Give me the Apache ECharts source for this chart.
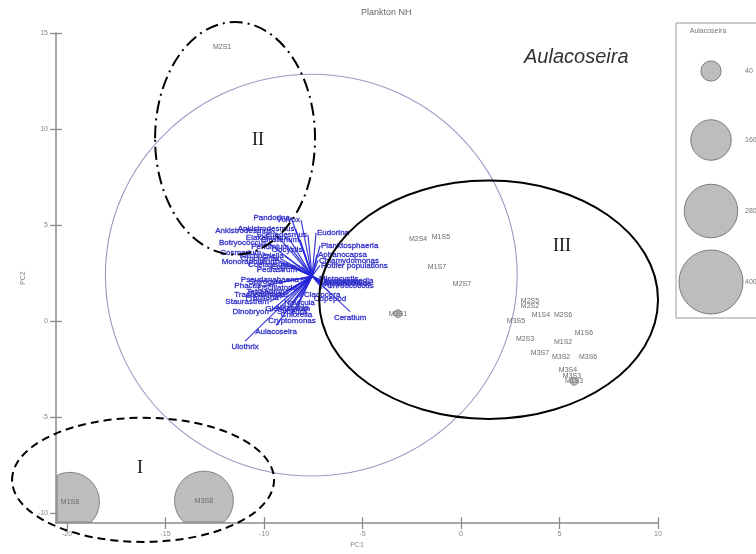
<!DOCTYPE html>
<html><head><meta charset="utf-8">
<script src="https://cdn.jsdelivr.net/npm/echarts@6/dist/echarts.min.js"></script>
<style>html,body{margin:0;padding:0;background:#fff}#c{width:756px;height:554px}</style>
</head><body><div id="c"></div>
<script>
// ---------- data ----------
const siteNames = ['M2S1','M2S4','M1S5','M1S7','M2S7','M3S1','M2S5','M2S2','M1S4','M2S6','M3S5','M1S6','M2S3','M1S2','M3S7','M3S2','M3S6','M3S4','M3S3','M1S3','M1S8','M3S8'];
const siteX = [-12.13,-2.18,-1.02,-1.22,0.05,-3.20,3.50,3.50,4.06,5.18,2.79,6.24,3.25,5.18,4.01,5.08,6.45,5.43,5.63,5.74,-19.85,-13.05];
const siteY = [14.28,4.29,4.39,2.81,1.93,0.40,1.06,0.81,0.30,0.35,-0.01,-0.63,-0.94,-1.09,-1.65,-1.86,-1.86,-2.52,-2.86,-3.12,-9.39,-9.33];
const siteAulacoseira = [0,0,0,0,0,6,0,0,0,0,0,0,0,0,0,0,0,0,0,6,337,337];

const speciesNames = ['Pandorina','Volvox','Ankistrodesmus','Scenedesmus','Closterium','Botryococcus','Peridinium','Cosmarium','Crucigenia','Coelastrum','Pediastrum','Pseudanabaena','Phacus','Oscillatoria','Trachelomonas','Staurastrum','Synedra','Dinobryon','Cryptomonas','Aulacoseira','Ulothrix','Eudorina','Planktosphaeria','Aphanocapsa','Chlamydomonas','Rotifer populations','Microcystis','Anabaena','Chroococcus','Copepod','Ceratium',
  'Ankistrodesmus','Elakatothrix','Oocystis','Kirchneriella','Monoraphidium','Euglena','Spirogyra','Tetraedron','Navicula','Fragilaria','Nitzschia','Chlorella','Merismopedia','Aphanothece','Woronichinia','Cladocera','Glenodinium','Cyclotella'];
const speciesX = [-8.63,-8.12,-9.54,-7.77,-8.17,-9.80,-8.68,-10.10,-9.19,-8.68,-8.27,-8.17,-10.10,-8.27,-8.68,-9.70,-8.58,-9.70,-8.58,-9.39,-10.96,-7.36,-7.16,-7.31,-7.26,-7.16,-7.26,-7.06,-6.85,-6.65,-5.63,
  -8.40,-8.75,-8.00,-8.95,-9.30,-8.10,-9.00,-8.90,-8.20,-9.20,-8.55,-8.35,-7.05,-7.00,-7.15,-7.05,-8.80,-9.05];
const speciesY = [5.41,5.27,4.70,4.50,4.24,4.09,3.88,3.58,3.27,2.96,2.70,2.14,1.83,1.73,1.37,1.02,0.81,0.50,0.35,-0.21,-1.03,4.60,3.93,3.47,3.17,2.91,2.19,2.04,1.83,1.48,0.50,
  4.80,4.35,3.70,3.40,3.10,2.85,2.05,1.55,1.25,1.20,1.00,0.65,2.12,1.95,2.02,1.70,0.95,1.45];
const vectorOrigin = [-7.56, 2.35];
const corrCircle = [-7.6, 2.4, 10.45];   // centre x, centre y, radius

const groupNames = ['I','II','III'];
const groupCX = [-16.14,-11.47,1.40];
const groupCY = [-8.25,9.52,1.12];
const groupRX = [6.65,4.06,8.6];
const groupRY = [3.23,6.05,6.2];
const groupLabelX = [-16.3,-10.3,5.13];
const groupLabelY = [-7.65,9.4,3.88];

const legendValues = [40,160,280,400];
const legendLabels = ['40','160','280','400'];
const xTicks = [-20,-15,-10,-5,0,5,10];
const yTicks = [-10,-5,0,5,10,15];
const xMin = -20.56, xMax = 10, yMin = -10.5, yMax = 15;

// ---------- helpers ----------
function bubbleR(v){ return v > 0 ? 1.6 * Math.sqrt(v) : 0; }
// circle outline clamped to a rectangle (intersection of convex shapes)
function clippedCircle(cx, cy, r, rect){
  const pts = [];
  const N = 160;
  for (let k = 0; k < N; k++){
    const a = 2*Math.PI*k/N;
    let x = cx + r*Math.cos(a), y = cy + r*Math.sin(a);
    x = Math.min(Math.max(x, rect.x), rect.x + rect.width);
    y = Math.min(Math.max(y, rect.y), rect.y + rect.height);
    pts.push([x, y]);
  }
  return pts;
}
const axisGray = '#8a8a8a';
const sans = '"Liberation Sans", Arial, sans-serif';

const chart = echarts.init(document.getElementById('c'), null, {renderer:'canvas'});

const tickStyle = {color: axisGray, width: 1.3};
const option = {
  animation: false,
  backgroundColor: '#fff',
  title: {text: 'Plankton NH', left: 356, top: 3, textStyle: {fontSize: 9, fontWeight: 'normal', color: '#666', fontFamily: sans}},
  grid: {left: 56, right: 98, top: 33, bottom: 23.3, containLabel: false},
  xAxis: [
    {type:'value', min:xMin, max:xMax, position:'bottom',
     axisLine:{show:true, onZero:false, lineStyle:{color:axisGray, width:1.5}},
     axisTick:{show:true, length:6, customValues:xTicks, lineStyle:tickStyle},
     axisLabel:{customValues:xTicks, color:'#888', fontSize:7, margin:7, fontFamily:sans},
     splitLine:{show:false},
     name:'PC1', nameLocation:'middle', nameGap:16, nameTextStyle:{color:'#888', fontSize:7, fontFamily:sans}},
    {type:'value', min:xMin, max:xMax, position:'bottom',
     axisLine:{show:false, onZero:false},
     axisTick:{show:true, inside:true, length:6, customValues:xTicks, lineStyle:tickStyle},
     axisLabel:{show:false}, splitLine:{show:false}}
  ],
  yAxis: [
    {type:'value', min:yMin, max:yMax, position:'left',
     axisLine:{show:true, onZero:false, lineStyle:{color:axisGray, width:1.5}},
     axisTick:{show:true, length:6, customValues:yTicks, lineStyle:tickStyle},
     axisLabel:{customValues:yTicks, color:'#888', fontSize:7, margin:8, fontFamily:sans},
     splitLine:{show:false},
     name:'PC2', nameLocation:'middle', nameGap:20, nameRotate:90, nameTextStyle:{color:'#888', fontSize:7, fontFamily:sans}},
    {type:'value', min:yMin, max:yMax, position:'left',
     axisLine:{show:false, onZero:false},
     axisTick:{show:true, inside:true, length:6, customValues:yTicks, lineStyle:tickStyle},
     axisLabel:{show:false}, splitLine:{show:false}}
  ],
  series: [
    // correlation circle
    {type:'custom', xAxisIndex:0, yAxisIndex:0, clip:false, silent:true,
     data:[corrCircle],
     renderItem(params, api){
       const c = api.coord([api.value(0), api.value(1)]);
       const r = api.value(2);
       const e = api.coord([api.value(0) + r, api.value(1) + r]);
       return {type:'ellipse', shape:{cx:c[0], cy:c[1], rx:e[0]-c[0], ry:c[1]-e[1]},
               style:{fill:'none', stroke:'#9a9ac4', lineWidth:1.1}};
     }},
    // species vectors
    {type:'custom', xAxisIndex:0, yAxisIndex:0, clip:false, silent:true,
     data: speciesNames.map((n,i)=>[speciesX[i], speciesY[i]]),
     renderItem(params, api){
       const o = api.coord(vectorOrigin);
       const t = api.coord([api.value(0), api.value(1)]);
       const dx = t[0]-o[0], dy = t[1]-o[1];
       let align, va, tx = t[0], ty = t[1];
       if (dy > 0 && dy >= 0.9*Math.abs(dx)) { align='center'; va='top'; ty += 2; }
       else if (dx < 0) { align='right'; va='middle'; tx -= 1; }
       else { align='left'; va='middle'; tx += 1; }
       return {type:'group', children:[
         {type:'line', shape:{x1:o[0], y1:o[1], x2:t[0], y2:t[1]}, style:{stroke:'#2424d8', lineWidth:1.2, opacity:0.9}},
         {type:'text', x:tx, y:ty, style:{text:speciesNames[params.dataIndex], align:align, verticalAlign:va, fill:'#2a2ac8', font:'8px ' + sans, stroke:'#4a4ad0', lineWidth:0.3}}
       ]};
     }},
    // sites (bubbles sized by Aulacoseira), clipped to the plot area
    {type:'custom', xAxisIndex:0, yAxisIndex:0, clip:true, silent:true,
     data: siteNames.map((n,i)=>[siteX[i], siteY[i], siteAulacoseira[i]]),
     renderItem(params, api){
       const cs = params.coordSys;
       const rect = {x:cs.x + 1, y:cs.y, width:cs.width - 1, height:cs.height - 1};
       const p = api.coord([api.value(0), api.value(1)]);
       const r = bubbleR(api.value(2));
       const ch = [];
       if (r > 0) ch.push({type:'polygon', shape:{points:clippedCircle(p[0], p[1], r, rect)}, style:{fill:'#bdbdbd', stroke:'#7c7c7c', lineWidth:1}});
       ch.push({type:'text', x:p[0], y:p[1], style:{text:siteNames[params.dataIndex], align:'center', verticalAlign:'middle', fill:'#6a6a6a', font:'7px ' + sans}});
       return {type:'group', children:ch};
     }},
    // hand-drawn group ellipses
    {type:'custom', xAxisIndex:0, yAxisIndex:0, clip:false, silent:true,
     data: groupNames.map((n,i)=>[groupCX[i], groupCY[i], groupRX[i], groupRY[i], groupLabelX[i], groupLabelY[i]]),
     renderItem(params, api){
       const i = params.dataIndex;
       const c = api.coord([api.value(0), api.value(1)]);
       const e = api.coord([api.value(0) + api.value(2), api.value(1) + api.value(3)]);
       const l = api.coord([api.value(4), api.value(5)]);
       const dashes = [[8,5],[13,5,2,5],null];
       const style = {fill:'none', stroke:'#000', lineWidth:2};
       if (dashes[i]) style.lineDash = dashes[i];
       return {type:'group', children:[
         {type:'ellipse', shape:{cx:c[0], cy:c[1], rx:e[0]-c[0], ry:c[1]-e[1]}, style:style},
         {type:'text', x:l[0], y:l[1], style:{text:groupNames[i], align:'center', verticalAlign:'middle', fill:'#111', font:'18px "Liberation Serif", "Times New Roman", serif'}}
       ]};
     }}
  ],
  graphic: [
    {type:'text', x:524, y:57, style:{text:'Aulacoseira', fill:'#333', font:'italic 20px ' + sans, verticalAlign:'middle'}},
    {type:'rect', shape:{x:676, y:23, width:110, height:295}, style:{fill:'none', stroke:'#9a9a9a', lineWidth:1}},
    {type:'text', x:708, y:31, style:{text:'Aulacoseira', fill:'#777', font:'7px ' + sans, align:'center', verticalAlign:'middle'}}
  ].concat(legendValues.map((v,i)=>({
    type:'circle', shape:{cx:711, cy:[71,140,211,282][i], r:bubbleR(v)},
    style:{fill:'#bdbdbd', stroke:'#7c7c7c', lineWidth:1}
  }))).concat(legendLabels.map((t,i)=>({
    type:'text', x:745, y:[71,140,211,282][i],
    style:{text:t, fill:'#777', font:'7px ' + sans, verticalAlign:'middle'}
  })))
};
chart.setOption(option);
</script>
</body></html>
